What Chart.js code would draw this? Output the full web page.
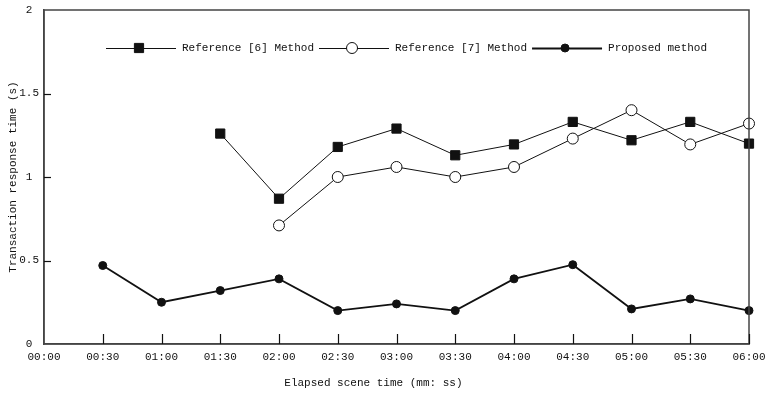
<!DOCTYPE html>
<html>
<head>
<meta charset="utf-8">
<script src="https://cdn.jsdelivr.net/npm/chart.js@4"></script>
<style>
  html, body { margin: 0; padding: 0; background: #fff; }
  #wrap { width: 766px; height: 393px; }
</style>
</head>
<body>
<div id="wrap"><canvas id="myChart"></canvas></div>
<script>
var timeLabels = ['00:00', '00:30', '01:00', '01:30', '02:00', '02:30', '03:00',
                  '03:30', '04:00', '04:30', '05:00', '05:30', '06:00'];
var ref6Values = [null, null, null, 1.26, 0.87, 1.18, 1.29, 1.13, 1.195, 1.33, 1.22, 1.33, 1.2];
var ref7Values = [null, null, null, null, 0.71, 1.0, 1.06, 1.0, 1.06, 1.23, 1.40, 1.195, 1.32];
var proposedValues = [null, 0.47, 0.25, 0.32, 0.39, 0.20, 0.24, 0.20, 0.39, 0.475, 0.21, 0.27, 0.20];
var yTicks = [0, 0.5, 1, 1.5, 2];

var FONT = 'Liberation Mono';
var INK = '#111';

// frame, inward ticks and the in-plot legend
var framePlugin = {
    id: 'frame',
    afterDraw: function(chart) {
        var ctx = chart.ctx;
        var a = chart.chartArea;
        var xs = chart.scales.x;
        var ys = chart.scales.y;
        ctx.save();
        ctx.strokeStyle = '#444';
        ctx.lineWidth = 1.5;
        ctx.strokeRect(a.left, a.top, a.right - a.left, a.bottom - a.top);
        ctx.strokeStyle = INK;
        ctx.lineWidth = 1.2;
        for (var i = 1; i < xs.ticks.length; i++) {
            var px = Math.round(xs.getPixelForTick(i)) + 0.5;
            ctx.beginPath();
            ctx.moveTo(px, a.bottom);
            ctx.lineTo(px, a.bottom - 10);
            ctx.stroke();
        }
        for (var j = 1; j < ys.ticks.length - 1; j++) {
            var py = Math.round(ys.getPixelForTick(j)) + 0.5;
            ctx.beginPath();
            ctx.moveTo(a.left, py);
            ctx.lineTo(a.left + 7, py);
            ctx.stroke();
        }
        // legend
        var x = a.left + 62;
        var y = a.top + 38;
        ctx.font = '11px "' + FONT + '"';
        ctx.textBaseline = 'middle';
        chart.data.datasets.forEach(function(ds) {
            ctx.strokeStyle = INK;
            ctx.lineWidth = ds.borderWidth;
            ctx.beginPath();
            ctx.moveTo(x, y + 0.5);
            ctx.lineTo(x + 70, y + 0.5);
            ctx.stroke();
            ctx.lineWidth = 1;
            ctx.fillStyle = ds.pointBackgroundColor;
            ctx.strokeStyle = INK;
            ctx.beginPath();
            if (ds.pointStyle === 'rect') {
                var s = ds.pointRadius * Math.SQRT1_2;
                ctx.rect(x + 33 - s, y - s, 2 * s, 2 * s);
            } else {
                ctx.arc(x + 33, y, ds.pointRadius, 0, Math.PI * 2);
            }
            ctx.fill();
            ctx.stroke();
            ctx.fillStyle = INK;
            ctx.fillText(ds.label, x + 76, y);
            x = x + 76 + ctx.measureText(ds.label).width + 5;
        });
        ctx.restore();
    }
};

var ctx = document.getElementById('myChart').getContext('2d');

new Chart(ctx, {
    type: 'line',
    plugins: [framePlugin],
    data: {
        labels: timeLabels,
        datasets: [
            {
                label: 'Reference [6] Method',
                data: ref6Values,
                borderColor: INK,
                borderWidth: 1,
                pointStyle: 'rect',
                pointRadius: 6.5,
                pointBorderWidth: 1,
                pointBackgroundColor: INK,
                pointBorderColor: INK,
                clip: false
            },
            {
                label: 'Reference [7] Method',
                data: ref7Values,
                borderColor: INK,
                borderWidth: 1,
                pointStyle: 'circle',
                pointRadius: 5.5,
                pointBorderWidth: 1,
                pointBackgroundColor: '#fff',
                pointBorderColor: INK,
                clip: false
            },
            {
                label: 'Proposed method',
                data: proposedValues,
                borderColor: INK,
                borderWidth: 1.8,
                pointStyle: 'circle',
                pointRadius: 4,
                pointBorderWidth: 1,
                pointBackgroundColor: INK,
                pointBorderColor: INK,
                clip: false
            }
        ]
    },
    options: {
        responsive: true,
        maintainAspectRatio: false,
        animation: false,
        layout: {
            padding: { left: 0, right: 0, top: 10, bottom: 0 }
        },
        plugins: {
            legend: { display: false },
            tooltip: { enabled: false }
        },
        scales: {
            x: {
                type: 'category',
                offset: false,
                grid: { display: false, drawTicks: false },
                border: { display: true, color: '#444', width: 1.5 },
                ticks: {
                    color: INK,
                    padding: 6,
                    maxRotation: 0,
                    autoSkip: false,
                    font: { family: FONT, size: 11 }
                },
                title: {
                    display: true,
                    // trailing spaces shift the centred title left as in the original
                    text: 'Elapsed scene time (mm: ss)       ',
                    color: INK,
                    padding: { top: 12, bottom: 3 },
                    font: { family: FONT, size: 11 }
                },
                afterFit: function(scale) {
                    scale.height = 49;
                    scale.paddingLeft = 0;
                    scale.paddingRight = 17;
                }
            },
            y: {
                min: 0,
                max: 2,
                afterBuildTicks: function(scale) {
                    scale.ticks = yTicks.map(function(v) { return { value: v }; });
                },
                grid: { display: false, drawTicks: false },
                border: { display: true, color: '#444', width: 1.5 },
                ticks: {
                    color: INK,
                    padding: 5,
                    crossAlign: 'center',
                    callback: function(v) { return String(v); },
                    font: { family: FONT, size: 11 }
                },
                title: {
                    display: true,
                    text: 'Transaction response time (s)',
                    color: INK,
                    padding: { top: 6, bottom: 0 },
                    font: { family: FONT, size: 11 }
                },
                afterFit: function(scale) {
                    scale.width = 44;
                    scale.paddingTop = 0;
                    scale.paddingBottom = 0;
                }
            }
        }
    }
});
</script>
</body>
</html>
